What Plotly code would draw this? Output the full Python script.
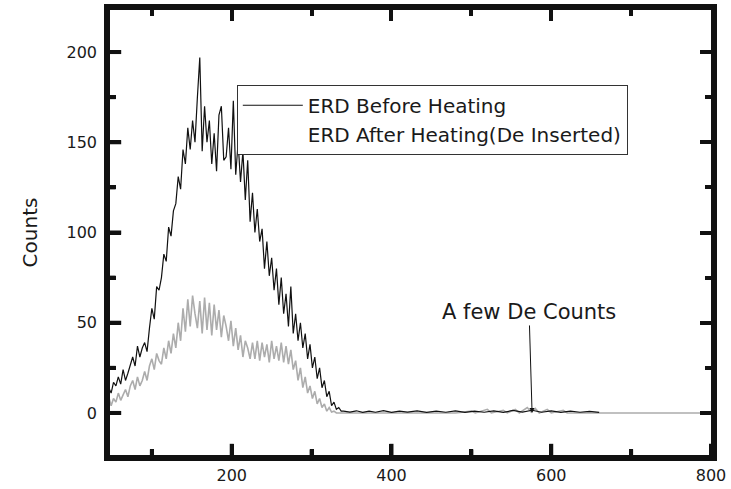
import plotly.graph_objects as go

# ---------------- data ----------------
before_x = [46, 49, 52, 55, 58, 61, 64, 67, 70, 73,
            76, 79, 82, 85, 88, 91, 94, 97, 100, 103,
            106, 109, 112, 115, 118, 121, 124, 127, 130, 133,
            136, 139, 142, 145, 148, 151, 154, 157, 160, 163,
            166, 169, 172, 175, 178, 181, 184, 187, 190, 193,
            196, 199, 202, 205, 208, 211, 214, 217, 220, 223,
            226, 229, 232, 235, 238, 241, 244, 247, 250, 253,
            256, 259, 262, 265, 268, 271, 274, 277, 280, 283,
            286, 289, 292, 295, 298, 301, 304, 307, 310, 313,
            316, 319, 322, 325, 328, 331, 334, 337, 340, 348,
            356, 364, 372, 380, 390, 400, 410, 420, 432, 444,
            456, 468, 480, 492, 504, 516, 528, 540, 552, 564,
            576, 588, 600, 612, 624, 636, 648, 660]
before_y = [14, 11, 17, 15, 20, 16, 24, 18, 22, 27,
            31, 26, 37, 31, 36, 39, 34, 47, 58, 52,
            70, 68, 75, 88, 84, 103, 98, 112, 116, 131,
            124, 146, 138, 158, 146, 162, 150, 175, 197, 145,
            170, 150, 162, 138, 155, 134, 165, 170, 140, 142,
            158, 135, 173, 132, 150, 128, 145, 118, 140, 106,
            122, 100, 113, 95, 102, 80, 95, 76, 86, 68,
            80, 60, 75, 55, 66, 48, 70, 44, 55, 40,
            50, 36, 44, 30, 38, 25, 31, 19, 25, 14,
            18, 9, 12, 4, 6, 2, 3, 1, 1, 0.5,
            1.2, 0.3, 1, 0.4, 1.3, 0.3, 1, 0.5, 1.2, 0.3,
            1, 0.4, 1.1, 0.3, 1, 0.4, 1.2, 0.3, 1.4, 0.5,
            1.5, 0.4, 1.2, 0.3, 1, 0.4, 0.9, 0.3]

after_x = [46, 49, 52, 55, 58, 61, 64, 67, 70, 73,
           76, 79, 82, 85, 88, 91, 94, 97, 100, 103,
           106, 109, 112, 115, 118, 121, 124, 127, 130, 133,
           136, 139, 142, 145, 148, 151, 154, 157, 160, 163,
           166, 169, 172, 175, 178, 181, 184, 187, 190, 193,
           196, 199, 202, 205, 208, 211, 214, 217, 220, 223,
           226, 229, 232, 235, 238, 241, 244, 247, 250, 253,
           256, 259, 262, 265, 268, 271, 274, 277, 280, 283,
           286, 289, 292, 295, 298, 301, 304, 307, 310, 313,
           316, 319, 322, 325, 328, 331, 400, 480, 500, 505,
           520, 525, 540, 545, 555, 560, 570, 575, 580, 585,
           595, 600, 615, 620, 700, 800]
after_y = [9, 4, 8, 6, 11, 7, 10, 13, 9, 15,
           18, 13, 20, 15, 18, 23, 18, 26, 30, 24,
           33, 29, 27, 36, 30, 40, 33, 44, 36, 50,
           40, 58, 45, 63, 48, 65, 55, 47, 62, 44,
           64, 46, 61, 43, 60, 46, 57, 42, 54, 48,
           40, 51, 37, 47, 35, 43, 31, 40, 36, 30,
           39, 30, 40, 29, 39, 31, 38, 28, 40, 30,
           37, 29, 39, 28, 37, 27, 35, 24, 29, 18,
           25, 14, 20, 11, 15, 8, 12, 5, 8, 3,
           5, 1, 3, 0.5, 1, 0, 0, 0, 1, 0,
           2, 0, 1.5, 0, 2, 0, 3, 0.5, 2.5, 0,
           2, 0, 1.5, 0, 0, 0]

x_ticks = [200, 400, 600, 800]
x_minor_ticks = [100, 300, 500, 700]
y_ticks = [0, 50, 100, 150, 200]
y_minor_ticks = [25, 75, 125, 175]
x_range = [47.6, 800]
y_range = [-23.3, 223.3]
series_names = ["ERD Before Heating", "ERD After Heating(De Inserted)"]
note_text = "A few De Counts"
note_x, note_y = 576, 0

FONT = "DejaVu Sans"
TXT = "#1a1a1a"
INK = "#111111"

fig = go.Figure()
fig.add_trace(go.Scatter(x=after_x, y=after_y, mode="lines", name=series_names[1],
                         line=dict(color="rgb(172,172,172)", width=1.6),
                         showlegend=False, legendgroup="after"))
fig.add_trace(go.Scatter(x=before_x, y=before_y, mode="lines", name=series_names[0],
                         line=dict(color="#111111", width=1.2),
                         legendrank=1))
# legend-only entry: the reference shows no visible sample for the second series
fig.add_trace(go.Scatter(x=[None], y=[None], mode="lines", name=series_names[1],
                         line=dict(color="rgba(0,0,0,0)", width=1),
                         legendgroup="after", legendrank=2, hoverinfo="skip"))

# inward tick marks on the bottom and left edges (clipped to the plot area,
# so only the inner half of each marker shows)
def edge_ticks(xs, ys, symbol, size):
    fig.add_trace(go.Scatter(x=xs, y=ys, mode="markers", showlegend=False,
                             hoverinfo="skip",
                             marker=dict(symbol=symbol, size=size,
                                         line=dict(width=4, color=INK))))

edge_ticks(x_ticks, [y_range[0]] * len(x_ticks), "line-ns", 16)
edge_ticks(x_minor_ticks, [y_range[0]] * len(x_minor_ticks), "line-ns", 8)
edge_ticks([x_range[0]] * len(y_ticks), y_ticks, "line-ew", 16)
edge_ticks([x_range[0]] * len(y_minor_ticks), y_minor_ticks, "line-ew", 8)

tick_style = dict(showline=True, linewidth=5.5, linecolor=INK, mirror="ticks",
                  ticks="inside", ticklen=11, tickwidth=4, tickcolor=INK,
                  showgrid=False, zeroline=False, layer="above traces",
                  automargin=False)
xminor = dict(ticks="inside", ticklen=6, tickwidth=4, tickcolor=INK,
              dtick=100, tick0=0, showgrid=False)
yminor = dict(ticks="inside", ticklen=6, tickwidth=4, tickcolor=INK,
              dtick=25, tick0=0, showgrid=False)

fig.update_layout(
    xaxis=dict(range=x_range, tickvals=x_ticks, ticklabelstandoff=1,
               minor=xminor, tickfont=dict(family=FONT, size=16, color=TXT),
               **tick_style),
    yaxis=dict(range=y_range, tickvals=y_ticks, ticklabelstandoff=4,
               minor=yminor, tickfont=dict(family=FONT, size=16, color=TXT),
               title=dict(text="Counts", font=dict(family=FONT, size=20, color=TXT),
                          standoff=26),
               **tick_style),
)

fig.add_annotation(x=note_x, y=note_y, xref="x", yref="y", text=note_text,
                   showarrow=True, arrowhead=2, arrowsize=1, arrowwidth=1,
                   arrowcolor="#111111", ax=-3, ay=-101,
                   font=dict(family=FONT, size=21, color=TXT))

fig.update_layout(
    width=731, height=489,
    margin=dict(l=110, r=20, t=10, b=34),
    paper_bgcolor="white", plot_bgcolor="white",
    legend=dict(x=0.211, y=0.832, xanchor="left", yanchor="top",
                bordercolor="#333333", borderwidth=1, bgcolor="white",
                font=dict(family=FONT, size=20, color=TXT),
                itemwidth=60, traceorder="normal"),
)

fig.write_html("out.html")
